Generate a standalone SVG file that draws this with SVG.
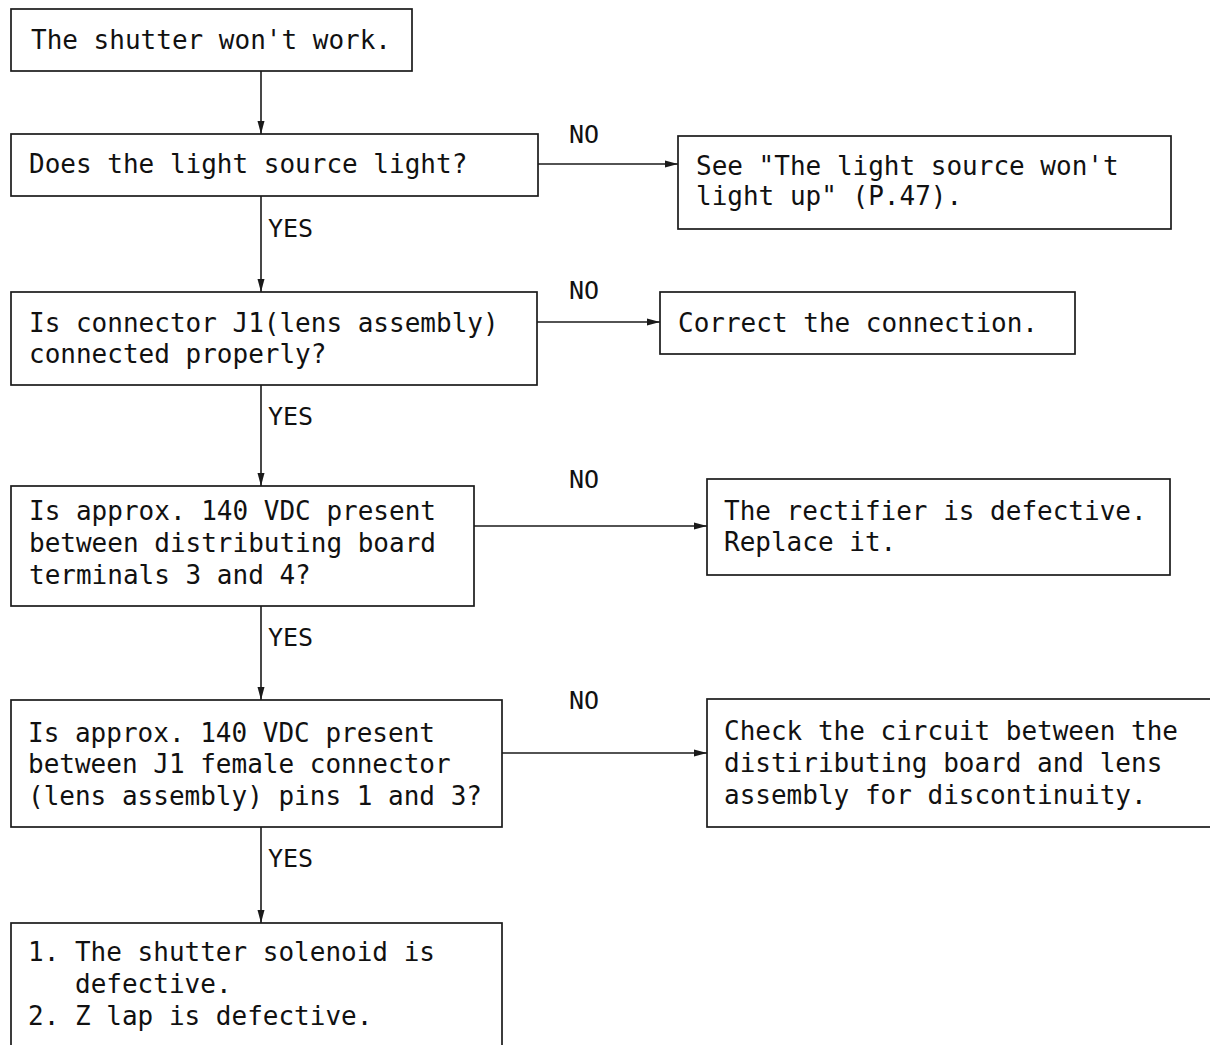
<svg xmlns="http://www.w3.org/2000/svg" width="1210" height="1045" viewBox="0 0 1210 1045">
<style>
.box{fill:#fff;stroke:#1a1a1a;stroke-width:1.7}
.t{font-family:"DejaVu Sans Mono","Liberation Mono",monospace;font-size:26px;fill:#111}
.lbl{font-family:"DejaVu Sans Mono","Liberation Mono",monospace;font-size:25px;fill:#111}
.c{stroke:#1a1a1a;stroke-width:1.6;fill:none}
</style>
<defs>
<marker id="ah" viewBox="0 0 13 8" refX="13" refY="4" markerWidth="13" markerHeight="8" markerUnits="userSpaceOnUse" orient="auto">
<path d="M0,0.5 L13,4 L0,7.5 Z" fill="#1a1a1a"/>
</marker>
</defs>
<rect width="1210" height="1045" fill="#fff"/>
<g id="connectors">
<line class="c" x1="261" y1="71" x2="261" y2="134" marker-end="url(#ah)"/>
<line class="c" x1="261" y1="196" x2="261" y2="292" marker-end="url(#ah)"/>
<line class="c" x1="261" y1="385" x2="261" y2="486" marker-end="url(#ah)"/>
<line class="c" x1="261" y1="606" x2="261" y2="700" marker-end="url(#ah)"/>
<line class="c" x1="261" y1="827" x2="261" y2="923" marker-end="url(#ah)"/>
<line class="c" x1="538" y1="164" x2="678" y2="164" marker-end="url(#ah)"/>
<line class="c" x1="537" y1="322" x2="660" y2="322" marker-end="url(#ah)"/>
<line class="c" x1="474" y1="526" x2="707" y2="526" marker-end="url(#ah)"/>
<line class="c" x1="502" y1="753" x2="707" y2="753" marker-end="url(#ah)"/>
<text class="lbl" x="268" y="237">YES</text>
<text class="lbl" x="268" y="425">YES</text>
<text class="lbl" x="268" y="646">YES</text>
<text class="lbl" x="268" y="867">YES</text>
<text class="lbl" x="569" y="143">NO</text>
<text class="lbl" x="569" y="299">NO</text>
<text class="lbl" x="569" y="488">NO</text>
<text class="lbl" x="569" y="709">NO</text>
</g>
<g id="n1">
<rect class="box" x="11" y="9" width="401" height="62"/>
<text class="t" x="31" y="49">The shutter won't work.</text>
</g>
<g id="n2">
<rect class="box" x="11" y="134" width="527" height="62"/>
<text class="t" x="29" y="173">Does the light source light?</text>
</g>
<g id="n2no">
<rect class="box" x="678" y="136" width="493" height="93"/>
<text class="t" x="696" y="175">See "The light source won't</text>
<text class="t" x="696" y="205">light up" (P.47).</text>
</g>
<g id="n3">
<rect class="box" x="11" y="292" width="526" height="93"/>
<text class="t" x="29" y="332">Is connector J1(lens assembly)</text>
<text class="t" x="29" y="363">connected properly?</text>
</g>
<g id="n3no">
<rect class="box" x="660" y="292" width="415" height="62"/>
<text class="t" x="678" y="332">Correct the connection.</text>
</g>
<g id="n4">
<rect class="box" x="11" y="486" width="463" height="120"/>
<text class="t" x="29" y="520">Is approx. 140 VDC present</text>
<text class="t" x="29" y="552">between distributing board</text>
<text class="t" x="29" y="584">terminals 3 and 4?</text>
</g>
<g id="n4no">
<rect class="box" x="707" y="479" width="463" height="96"/>
<text class="t" x="724" y="520">The rectifier is defective.</text>
<text class="t" x="724" y="551">Replace it.</text>
</g>
<g id="n5">
<rect class="box" x="11" y="700" width="491" height="127"/>
<text class="t" x="28" y="742">Is approx. 140 VDC present</text>
<text class="t" x="28" y="773">between J1 female connector</text>
<text class="t" x="28" y="805">(lens assembly) pins 1 and 3?</text>
</g>
<g id="n5no">
<rect class="box" x="707" y="699" width="510" height="128"/>
<text class="t" x="724" y="740">Check the circuit between the</text>
<text class="t" x="724" y="772">distiributing board and lens</text>
<text class="t" x="724" y="804">assembly for discontinuity.</text>
</g>
<g id="n6">
<rect class="box" x="11" y="923" width="491" height="130"/>
<text class="t" x="28" y="961">1. The shutter solenoid is</text>
<text class="t" x="75" y="993">defective.</text>
<text class="t" x="28" y="1025">2. Z lap is defective.</text>
</g>
</svg>
